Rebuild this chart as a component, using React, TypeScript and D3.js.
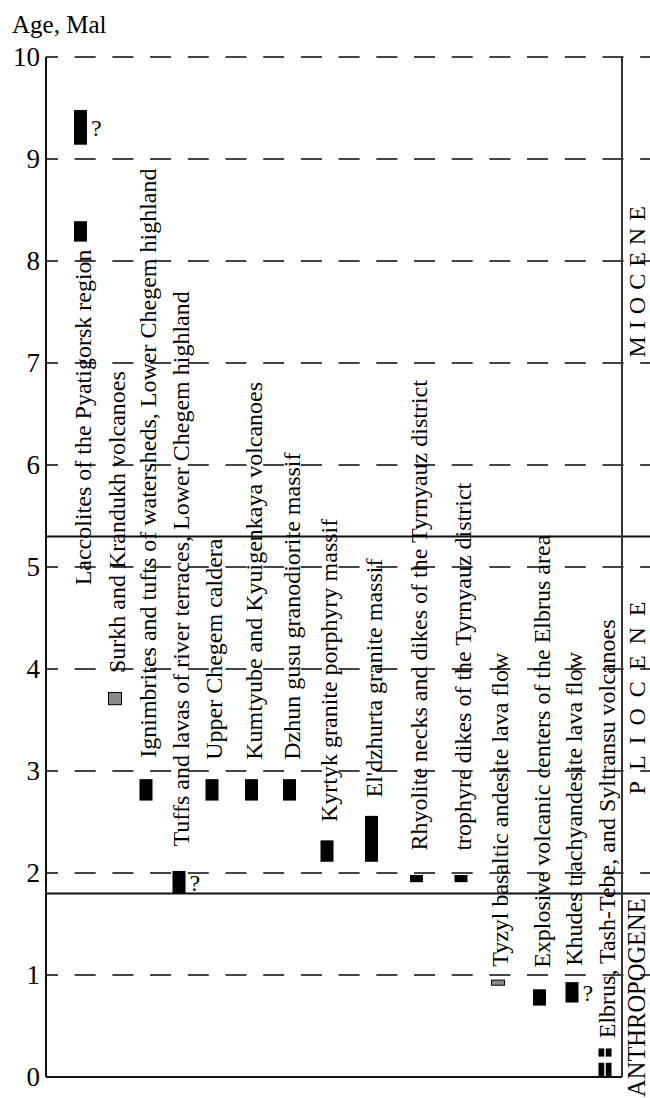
import React from 'react';
import * as d3 from 'd3';

// ---------- data ----------
const ageTicks = [0, 1, 2, 3, 4, 5, 6, 7, 8, 9, 10];
const units = [
  "Laccolites of the Pyatigorsk region",
  "Surkh and Krandukh volcanoes",
  "Ignimbrites and tufts of watersheds, Lower Chegem highland",
  "Tuffs and lavas of river terraces, Lower Chegem highland",
  "Upper Chegem caldera",
  "Kumtyube and Kyuigenkaya volcanoes",
  "Dzhun gusu granodiorite massif",
  "Kyrtyk granite porphyry massif",
  "El'dzhurta granite massif",
  "Rhyolite necks and dikes of the Tyrnyauz district",
  "trophyre dikes of the Tyrnyauz district",
  "Tyzyl basaltic andesite lava flow",
  "Explosive volcanic centers of the Elbrus area",
  "Khudes trachyandesite lava flow",
  "Elbrus, Tash-Tebe, and Syltransu volcanoes",
];
// age ranges (Ma) per unit
const ageRanges: [number, number][][] = [
  [[9.14, 9.48], [8.19, 8.39]],
  [[3.65, 3.77]],
  [[2.71, 2.92]],
  [[1.8, 2.02]],
  [[2.71, 2.92]],
  [[2.71, 2.92]],
  [[2.71, 2.92]],
  [[2.11, 2.32]],
  [[2.11, 2.56]],
  [[1.91, 1.98]],
  [[1.91, 1.98]],
  [[0.9, 0.95]],
  [[0.7, 0.86]],
  [[0.73, 0.93]],
  [[0.0, 0.14], [0.2, 0.28]],
];
// index of the range marked with "?" (or -1)
const questioned = [0, -1, -1, 0, -1, -1, -1, -1, -1, -1, -1, -1, -1, 0, -1];
// age at which each rotated label starts
const labelStartAge = [4.82, 3.96, 3.13, 2.26, 3.11, 3.11, 3.11, 2.5, 2.74, 2.22, 2.22, 1.08, 1.07, 1.09, 0.38];
const epochBounds = [1.8, 5.3];
const epochs = ["ANTHROPOGENE", "PLIOCENE", "MIOCENE"];

// ---------- layout / style ----------
const W = 650, H = 1098;
const columnX = [80.5, 115, 146, 179, 212, 251.5, 289.5, 327, 371.5, 416.5, 461, 498, 539.5, 572, 605];
const grayUnits = new Set([1, 11]);
const splitUnits = new Set([14]);
const FONT = "'Liberation Serif', 'Times New Roman', serif";

export default function App() {
  const y = d3.scaleLinear().domain([0, 10]).range([1077, 57]);
  const x = d3.scaleOrdinal<string, number>().domain(units).range(columnX);
  const axisX = 46, rightX = 622, barW = 13;

  return (
    <svg width={W} height={H} style={{ position: 'absolute', left: 0, top: 0, background: '#fff' }}
      fontFamily={FONT}>
      {/* y title */}
      <text x={12} y={33} fontSize={25}>Age, Mal</text>

      {/* dashed grid */}
      {ageTicks.filter(t => t > 0).map(t => (
        <line key={'g' + t} x1={axisX} x2={W} y1={y(t)} y2={y(t)} stroke="#444" strokeWidth={2}
          strokeDasharray="21 16.7" strokeDashoffset={9} />
      ))}
      {/* epoch boundaries */}
      {epochBounds.map(b => (
        <line key={'b' + b} x1={axisX} x2={W} y1={y(b)} y2={y(b)} stroke="#111" strokeWidth={2} />
      ))}
      {/* axes */}
      <line x1={axisX} x2={axisX} y1={y(10)} y2={y(0)} stroke="#111" strokeWidth={2} />
      <line x1={axisX} x2={rightX} y1={y(0)} y2={y(0)} stroke="#111" strokeWidth={2} />
      <line x1={rightX} x2={rightX} y1={y(10)} y2={y(0)} stroke="#333" strokeWidth={2} />

      {/* tick labels */}
      {ageTicks.map(t => (
        <text key={'t' + t} x={40} y={y(t)} dy="0.34em" fontSize={27} textAnchor="end">{t}</text>
      ))}

      {/* unit labels */}
      {units.map((u, i) => (
        <text key={'l' + i} transform={`translate(${(x(u) as number) + 10},${y(labelStartAge[i])}) rotate(-90)`}
          fontSize={24}>{u}</text>
      ))}

      {/* bars */}
      {units.map((u, i) => ageRanges[i].map((r, j) => {
        const cx = x(u) as number;
        const top = y(r[1]), bot = y(r[0]);
        const gray = grayUnits.has(i);
        const parts = splitUnits.has(i)
          ? [[cx - barW / 2, barW / 2 - 0.75], [cx + 0.75, barW / 2 - 0.75]]
          : [[cx - barW / 2, barW]];
        return (
          <g key={'r' + i + '-' + j}>
            {parts.map((p, k) => (
              <rect key={k} x={p[0]} y={top} width={p[1]} height={bot - top}
                fill={gray ? '#8a8a8a' : '#000'} stroke={gray ? '#000' : 'none'} strokeWidth={gray ? 1 : 0} />
            ))}
            {questioned[i] === j && (
              <text x={cx + barW / 2 + 4} y={(top + bot) / 2} dy="0.35em" fontSize={24}>?</text>
            )}
          </g>
        );
      }))}

      {/* epoch labels */}
      <text transform={`translate(645,${y(7.83)}) rotate(-90)`} fontSize={24} letterSpacing={7}
        textAnchor="middle">{epochs[2]}</text>
      <text transform={`translate(645,${y(3.77)}) rotate(-90)`} fontSize={24} letterSpacing={11}
        textAnchor="middle">{epochs[1]}</text>
      <text transform={`translate(645,${H - 1}) rotate(-90)`} fontSize={24.5}
        textAnchor="start">{epochs[0]}</text>
    </svg>
  );
}
